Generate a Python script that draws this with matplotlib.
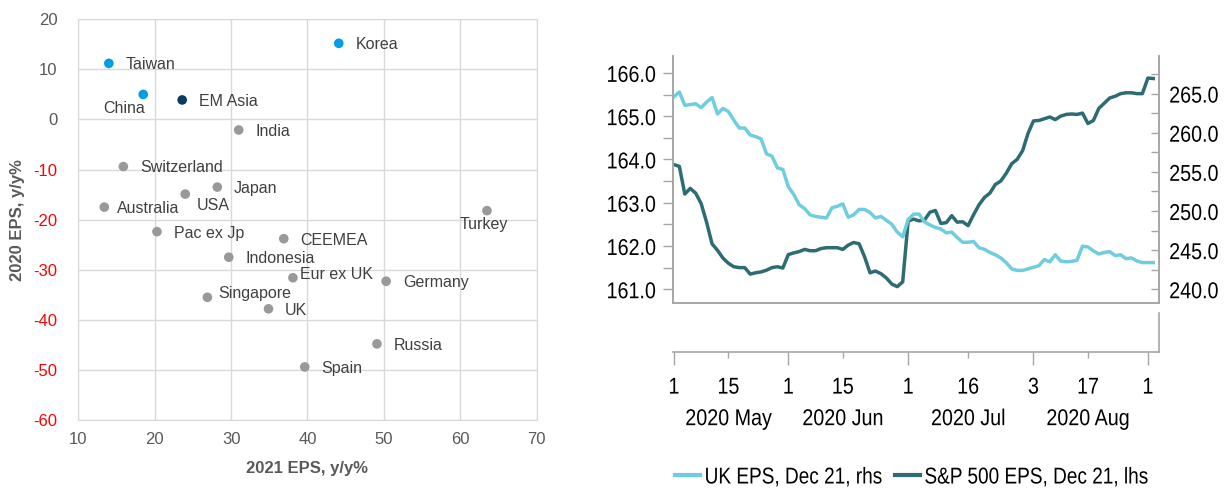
import numpy as np
import pandas as pd
import matplotlib
matplotlib.use("Agg")
import matplotlib.pyplot as plt
from matplotlib.lines import Line2D
from matplotlib.patheffects import AbstractPathEffect
from matplotlib.transforms import Affine2D

plt.rcParams["axes.unicode_minus"] = False

# ---- left panel: EPS growth by market ----
markets = ["Korea", "Taiwan", "China", "EM Asia", "India", "Switzerland", "Japan", "USA",
           "Australia", "Turkey", "Pac ex Jp", "CEEMEA", "Indonesia", "Eur ex UK", "Germany",
           "Singapore", "UK", "Russia", "Spain"]
eps_2021 = [44.1, 14.0, 18.5, 23.6, 31.0, 15.9, 28.2, 24.0, 13.4, 63.5, 20.3, 36.9, 29.7,
            38.1, 50.3, 26.9, 34.9, 49.1, 39.65]
eps_2020 = [15.2, 11.2, 5.0, 3.9, -2.1, -9.4, -13.5, -14.9, -17.5, -18.2, -22.4, -23.8,
            -27.5, -31.6, -32.3, -35.5, -37.8, -44.8, -49.4]
groups = ["asia", "asia", "asia", "em_asia"] + ["other"] * 15

# ---- right panel: Dec 21 EPS estimates, daily (business days from 1 May 2020) ----
sp500_eps = [163.88, 163.84, 163.20, 163.33, 163.22, 162.98, 162.55, 162.05, 161.90, 161.72,
             161.60, 161.52, 161.50, 161.50, 161.35, 161.38, 161.40, 161.44, 161.50, 161.52,
             161.49, 161.80, 161.84, 161.87, 161.92, 161.89, 161.89, 161.94, 161.96, 161.96,
             161.96, 161.92, 162.02, 162.08, 162.05, 161.75, 161.38, 161.42, 161.36, 161.26,
             161.12, 161.06, 161.17, 162.58, 162.62, 162.58, 162.60, 162.78, 162.82, 162.52,
             162.54, 162.70, 162.55, 162.56, 162.47, 162.72, 162.95, 163.12, 163.22, 163.42,
             163.50, 163.68, 163.90, 164.00, 164.20, 164.60, 164.89, 164.90, 164.94, 164.98,
             164.92, 165.00, 165.04, 165.05, 165.04, 165.07, 164.83, 164.90, 165.18, 165.30,
             165.42, 165.46, 165.52, 165.54, 165.54, 165.52, 165.52, 165.88, 165.87]
uk_eps = [264.6, 265.2, 263.5, 263.6, 263.7, 263.2, 263.9, 264.5, 262.4, 263.1,
          262.7, 261.6, 260.6, 260.6, 259.7, 259.5, 259.2, 257.3, 257.0, 255.5,
          255.3, 253.1, 252.1, 250.8, 250.3, 249.5, 249.3, 249.2, 249.1, 250.4,
          250.6, 250.9, 249.2, 249.5, 250.2, 250.2, 249.8, 249.1, 249.3, 248.8,
          248.3, 247.3, 246.7, 248.9, 249.6, 249.6, 248.6, 248.2, 247.9, 247.7,
          247.2, 247.3, 246.6, 246.0, 246.0, 246.1, 245.3, 245.1, 244.7, 244.4,
          244.0, 243.4, 242.6, 242.4, 242.4, 242.6, 242.8, 243.0, 243.8, 243.5,
          244.4, 243.6, 243.5, 243.55, 243.7, 245.5, 245.4, 244.9, 244.5, 244.7,
          244.8, 244.3, 244.4, 243.9, 244.0, 243.6, 243.4, 243.4, 243.4]
days = pd.bdate_range("2020-05-01", periods=len(sp500_eps))
month_starts = ["2020-05-01", "2020-06-01", "2020-07-01", "2020-08-03", "2020-09-01"]
mid_month = ["2020-05-15", "2020-06-15", "2020-07-16", "2020-08-17"]
month_names = ["2020 May", "2020 Jun", "2020 Jul", "2020 Aug"]


class Squeeze(AbstractPathEffect):
    """Draw text narrower, about a fixed point (0 = left, 1 = right edge)."""

    def __init__(self, sx=0.8, anchor=0.5):
        super().__init__()
        self.sx = sx
        self.anchor = anchor

    def draw_path(self, renderer, gc, tpath, affine, rgbFace=None):
        ext = tpath.get_extents()
        x0 = ext.x0 + self.anchor * ext.width
        t = Affine2D().translate(-x0, 0).scale(self.sx, 1).translate(x0, 0)
        renderer.draw_path(gc, tpath, t + affine, rgbFace)


W, H = 1225, 488
fig = plt.figure(figsize=(W / 100, H / 100), dpi=100)

# ---------------- scatter ----------------
grey_txt = "#595959"
colors = {"asia": "#009fe3", "em_asia": "#0b3a60", "other": "#999999"}
ax = fig.add_axes([78.3 / W, 1 - 420 / H, 458.3 / W, 400.7 / H])
ax.scatter(eps_2021, eps_2020, s=48, c=[colors[g] for g in groups], zorder=3, linewidths=0)

# label offsets in points (dx, dy, ha)
offsets = {"China": (-14, -10, "center"), "USA": (8, -8, "left"), "Turkey": (-2, -10, "center"),
           "Eur ex UK": (5, 2, "left"), "Singapore": (8, 3, "left"), "Australia": (9, -1, "left")}
for name, x, y in zip(markets, eps_2021, eps_2020):
    dx, dy, ha = offsets.get(name, (12, -1, "left"))
    ax.annotate(name, (x, y), xytext=(dx, dy), textcoords="offset points",
                ha=ha, va="center", fontsize=11.5, color="#404040",
                family="Liberation Sans")

ax.set_xlim(10, 70)
ax.set_ylim(-60, 20)
ax.set_xticks(range(10, 71, 10))
ax.set_yticks(range(-60, 21, 10))
ax.grid(True, color="#d9d9d9", linewidth=1)
ax.set_axisbelow(True)
for s in ax.spines.values():
    s.set_color("#d9d9d9")
ax.tick_params(length=0, labelsize=12, colors=grey_txt, labelfontfamily="Liberation Sans")
ax.tick_params(axis="y", pad=15)
ax.tick_params(axis="x", pad=9)
for lbl, v in zip(ax.get_yticklabels(), range(-60, 21, 10)):
    if v < 0:
        lbl.set_color("#ff0000")
ax.set_xlabel("2021 EPS, y/y%", fontsize=12, fontweight="bold", color=grey_txt,
              family="Liberation Sans", labelpad=10)
ax.set_ylabel("2020 EPS, y/y%", fontsize=12, fontweight="bold", color=grey_txt,
              family="Liberation Sans", labelpad=6)

# ---------------- line chart ----------------
font = "Liberation Sans"
fs = 16.5
sq = 0.86
dark = "#2e6c74"
light = "#6fcde0"
spine_c = "#a6a6a6"
x = np.arange(len(days))
xlim = (-0.22, 89.1)

ax1 = fig.add_axes([672.7 / W, 1 - 303.3 / H, 486.6 / W, 247.3 / H])
ax2 = ax1.twinx()
ax1.plot(x, sp500_eps, color=dark, lw=2.5)
ax2.plot(x, uk_eps, color=light, lw=2.5)

ax1.set_xlim(*xlim)
ax1.set_ylim(160.675, 166.39)
ax2.set_ylim(238.2, 269.8)
ax1.set_xticks([])
left_major = np.arange(161, 166.1, 1)
right_major = np.arange(240, 266, 5)
ax1.set_yticks(left_major, labels=[f"{v:.1f}" for v in left_major])
ax1.set_yticks(np.arange(161, 166.1, 0.5), minor=True)
ax2.set_yticks(right_major, labels=[f"{v:.1f}" for v in right_major])
ax2.set_yticks(np.arange(240, 268, 2.5), minor=True)
ax1.tick_params(axis="y", which="both", direction="out", length=7, width=1, color=spine_c,
                labelsize=fs, pad=5, labelfontfamily=font)
ax2.tick_params(axis="y", which="both", direction="in", length=6, width=1, color=spine_c,
                labelsize=fs, pad=7, labelfontfamily=font)
for a in (ax1, ax2):
    a.spines["top"].set_visible(False)
    for s in ("left", "right", "bottom"):
        a.spines[s].set_color(spine_c)
        a.spines[s].set_linewidth(1.2)
for lbl in ax1.get_yticklabels():
    lbl.set_path_effects([Squeeze(sq, 1.0)])
for lbl in ax2.get_yticklabels():
    lbl.set_path_effects([Squeeze(sq, 0.0)])

# detached date axis under the plot
axd = fig.add_axes([672.7 / W, 1 - 352 / H, 486.6 / W, 39.3 / H])
axd.set_xlim(*xlim)
axd.patch.set_visible(False)
for s in ("left", "top"):
    axd.spines[s].set_visible(False)
for s in ("right", "bottom"):
    axd.spines[s].set_color(spine_c)
    axd.spines[s].set_linewidth(1.2)
axd.set_yticks([])
major_pos = [days.get_loc(pd.Timestamp(d)) for d in month_starts]
minor_pos = [days.get_loc(pd.Timestamp(d)) for d in mid_month]
axd.set_xticks(major_pos, labels=[str(pd.Timestamp(d).day) for d in month_starts])
axd.set_xticks(minor_pos, labels=[str(pd.Timestamp(d).day) for d in mid_month], minor=True)
axd.tick_params(axis="x", which="major", length=9, width=1, color=spine_c, labelsize=fs,
                pad=8, labelfontfamily=font)
axd.tick_params(axis="x", which="minor", length=4, width=1, color=spine_c, labelsize=fs,
                pad=13, labelfontfamily=font)
for lbl in axd.get_xticklabels(which="both"):
    lbl.set_path_effects([Squeeze(sq, 0.5)])
for pos, name in zip(minor_pos, month_names):
    axd.annotate(name, (pos, 0), xycoords=("data", "axes fraction"), xytext=(0, -48),
                 textcoords="offset points", ha="center", va="center", fontsize=fs,
                 family=font, color="black", path_effects=[Squeeze(sq, 0.5)])

handles = [Line2D([], [], color=light, lw=3), Line2D([], [], color=dark, lw=3)]
leg = fig.legend(handles, ["UK EPS, Dec 21, rhs", "S&P 500 EPS, Dec 21, lhs"],
                 loc="center left", bbox_to_anchor=(675 / W, 1 - 477 / H), ncol=2,
                 frameon=False, prop={"family": font, "size": fs}, borderpad=0,
                 borderaxespad=0, handlelength=1.1, handletextpad=0.18,
                 columnspacing=-1.0)
for t in leg.get_texts():
    t.set_path_effects([Squeeze(0.83, 0.0)])

fig.savefig("out.png", dpi=100)
